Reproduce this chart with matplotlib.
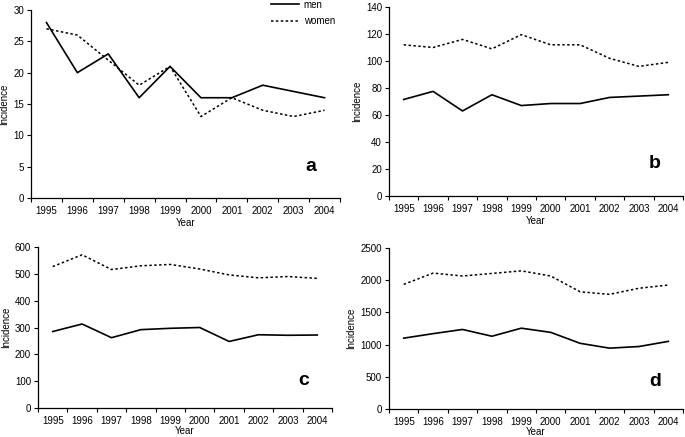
import matplotlib
matplotlib.use("Agg")
import matplotlib.pyplot as plt
import numpy as np

plt.rcParams['font.family'] = ['Liberation Sans', 'DejaVu Sans']

years = ['1995', '1996', '1997', '1998', '1999', '2000', '2001', '2002', '2003', '2004']

men_a = [28, 20, 23, 16, 21, 16, 16, 18, 17, 16]
women_a = [27, 26, 22, 18, 21, 13, 16, 14, 13, 14]

men_b = [71.5, 77.5, 63, 75, 67, 68.5, 68.5, 73, 74, 75]
women_b = [112, 110, 116, 109, 119.5, 112, 112, 102, 96, 99]

men_c = [285, 313, 262, 292, 297, 300, 248, 273, 271, 272]
women_c = [527, 571, 516, 530, 535, 518, 496, 485, 490, 483]

men_d = [1100, 1170, 1235, 1130, 1255, 1190, 1020, 945, 970, 1050]
women_d = [1935, 2110, 2065, 2105, 2145, 2065, 1820, 1780, 1875, 1925]

panels = [
    ('a', men_a, women_a, 30, 5, [31, 10, 340, 198], 1.5),
    ('b', men_b, women_b, 140, 20, [389, 7, 683, 196], 1.5),
    ('c', men_c, women_c, 600, 100, [38, 247, 332, 408], 0),
    ('d', men_d, women_d, 2500, 500, [389, 248, 683, 409], 0),
]

W, H = 685, 437
fig = plt.figure(figsize=(W / 100, H / 100), dpi=100)

x = np.arange(len(years))
for label, men, women, ymax, ystep, (l, t, r, b), xlpad in panels:
    ax = fig.add_axes([l / W, (H - b) / H, (r - l) / W, (b - t) / H])
    ax.plot(x, men, color='black', lw=1.2, label='men')
    ax.plot(x, women, color='black', lw=1.1, linestyle=(0, (1.6, 1.6)), label='women')
    ax.set_xlim(-0.5, len(years) - 0.5)
    ax.set_ylim(0, ymax)
    ax.set_yticks(np.arange(0, ymax + ystep / 2, ystep))
    ax.set_xticks(x)
    ax.set_xticklabels(years)
    ax.set_xticks(np.arange(-0.5, len(years)), minor=True)
    ax.tick_params(axis='x', which='major', length=0, labelsize=7, pad=6)
    ax.tick_params(axis='x', which='minor', length=3, width=0.8, direction='out')
    ax.tick_params(axis='y', length=3, width=0.8, labelsize=7, pad=2)
    for s in ['top', 'right']:
        ax.spines[s].set_visible(False)
    for s in ['left', 'bottom']:
        ax.spines[s].set_linewidth(0.9)
    ax.set_ylabel('Incidence', fontsize=7, labelpad=3)
    ax.set_xlabel('Year', fontsize=7, labelpad=xlpad)
    ax.text(0.905, 0.17, label, transform=ax.transAxes, fontsize=14,
            fontweight='bold', ha='center', va='center')
    if label == 'a':
        ax.legend(loc='center', bbox_to_anchor=(303 / W, 1 - 13 / H),
                  bbox_transform=fig.transFigure, frameon=False, fontsize=7,
                  handlelength=2.9, handletextpad=0.5, labelspacing=0.65,
                  borderpad=0)

fig.savefig('out.png', dpi=100)
